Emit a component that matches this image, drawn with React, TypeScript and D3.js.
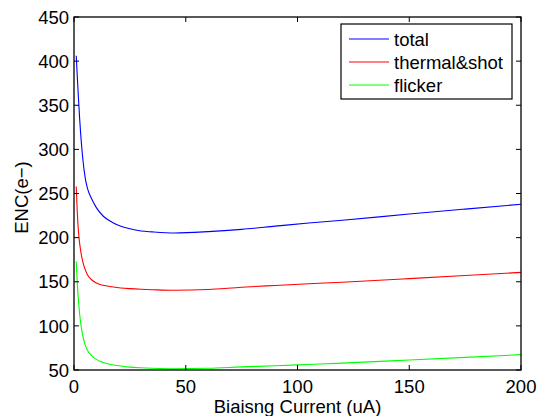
import React from "react";
import * as d3 from "d3";

// biasing current (uA)
const current = [1, 1.5, 2, 2.5, 3, 4, 5, 6, 8, 10, 13, 17, 21, 25, 30, 35, 45, 60, 75, 90, 105, 120, 150, 175, 200];

const total = [406, 381, 358, 336, 317, 288, 268, 256, 243.5, 234, 224.5, 217.5, 213, 210, 207.5, 206.5, 205.3, 206.8, 209.4, 213, 216.6, 219.7, 226.7, 232.3, 237.8];
const thermalShot = [258, 227, 207, 194, 185, 172, 164, 158, 152, 148.5, 146, 144.3, 143, 142.2, 141.5, 141, 140.3, 141.2, 143.8, 145.8, 147.7, 149.5, 153.5, 157, 160.6];
const flicker = [173, 147, 129, 114, 103, 88, 78.5, 72.5, 66, 62, 58.5, 56, 54.5, 53.3, 52.5, 52, 51.5, 52, 53.5, 54.8, 56.3, 57.8, 61.3, 64.3, 67.4];

const seriesNames = ["total", "thermal&shot", "flicker"];
const seriesColors = ["#0000ff", "#ff0000", "#00ff00"];
const xTicks = [0, 50, 100, 150, 200];
const yTicks = [50, 100, 150, 200, 250, 300, 350, 400, 450];

const App = () => {
  const width = 539;
  const height = 416;
  const margin = { top: 17, right: 18, bottom: 46, left: 74 };
  const innerW = width - margin.left - margin.right;
  const innerH = height - margin.top - margin.bottom;

  const xScale = d3.scaleLinear().domain([0, 200]).range([0, innerW]);
  const yScale = d3.scaleLinear().domain([50, 450]).range([innerH, 0]);

  const line = d3
    .line<number>()
    .x((d, i) => xScale(current[i]))
    .y((d) => yScale(d))
    .curve(d3.curveMonotoneX);

  const series = [total, thermalShot, flicker];
  const font = "'Liberation Sans', Arial, sans-serif";
  const fs = 18.5;
  const tickLen = 5;

  return (
    <svg
      width={width}
      height={height}
      style={{ position: "absolute", left: 0, top: 0, background: "#fff" }}
      fontFamily={font}
    >
      <rect width={width} height={height} fill="#fff" />
      <g transform={`translate(${margin.left},${margin.top})`}>
        {series.map((s, k) => (
          <path key={k} d={line(s) || ""} fill="none" stroke={seriesColors[k]} strokeWidth={1.1} />
        ))}
        <rect x={0} y={0} width={innerW} height={innerH} fill="none" stroke="#000" strokeWidth={1.3} />
        {xTicks.map((t) => (
          <g key={t}>
            <line x1={xScale(t)} x2={xScale(t)} y1={innerH} y2={innerH - tickLen} stroke="#000" />
            <line x1={xScale(t)} x2={xScale(t)} y1={0} y2={tickLen} stroke="#000" />
            <text x={xScale(t)} y={innerH + 22.5} textAnchor="middle" fontSize={fs} fill="#000">
              {t}
            </text>
          </g>
        ))}
        {yTicks.map((t) => (
          <g key={t}>
            <line x1={0} x2={tickLen} y1={yScale(t)} y2={yScale(t)} stroke="#000" />
            <line x1={innerW} x2={innerW - tickLen} y1={yScale(t)} y2={yScale(t)} stroke="#000" />
            <text x={-5} y={yScale(t)} dy="0.36em" textAnchor="end" fontSize={fs} fill="#000">
              {t}
            </text>
          </g>
        ))}
        <text x={innerW / 2} y={innerH + 43} textAnchor="middle" fontSize={fs} fill="#000">
          Biaisng Current (uA)
        </text>
        <text
          transform={`translate(${-46},${innerH / 2 + 4})rotate(-90)`}
          textAnchor="middle"
          fontSize={fs}
          fill="#000"
        >
          ENC(e−)
        </text>
      </g>
      <g transform="translate(341,24)">
        <rect x={0} y={0} width={171} height={75} fill="#fff" stroke="#000" strokeWidth={1.2} />
        {seriesNames.map((name, k) => (
          <g key={name} transform={`translate(0,${15 + k * 23})`}>
            <line x1={8} x2={48} y1={0} y2={0} stroke={seriesColors[k]} strokeWidth={1.1} />
            <text x={53} y={0} dy="0.36em" fontSize={fs} fill="#000">
              {name}
            </text>
          </g>
        ))}
      </g>
    </svg>
  );
};

export default App;
